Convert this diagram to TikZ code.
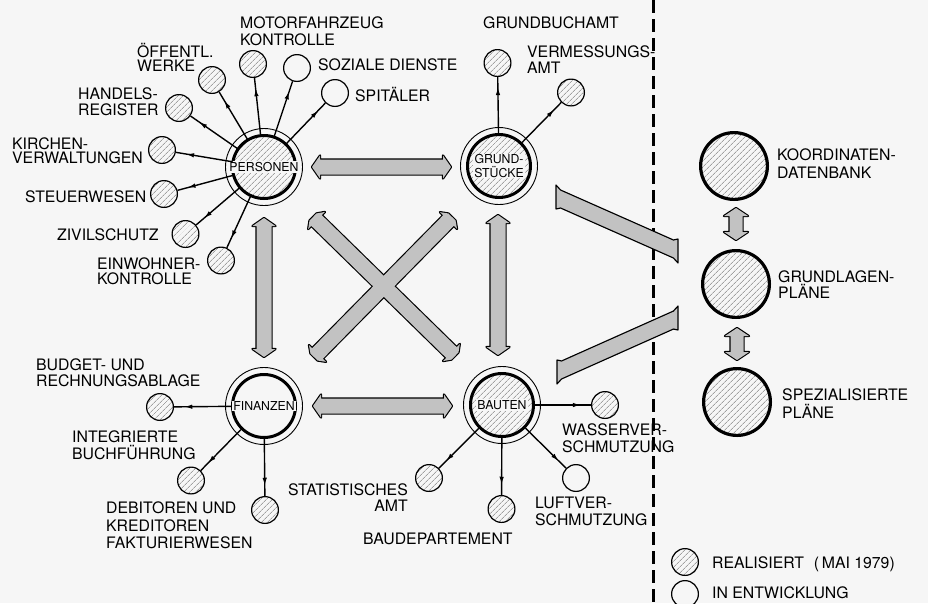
\documentclass[tikz,border=0pt]{standalone}
\usepackage{fontspec}
\setmainfont{TeX Gyre Heros}
\usetikzlibrary{calc,patterns.meta,decorations.markings,arrows.meta}
\definecolor{bg}{gray}{0.965}
\tikzset{
  hatch/.style={pattern={Lines[angle=45,distance=4pt,line width=0.55pt]}, pattern color=black!55},
  small/.style={circle, draw, line width=1.2pt, minimum size=26.8pt, inner sep=0pt},
  real/.style={small, hatch},
  dev/.style={small, fill=bg},
  hub/.style={circle, draw, line width=3pt, minimum size=63pt, inner sep=0pt},
  ring/.style={line width=0.9pt},
  hubtext/.style={fill=bg, inner sep=1pt, font=\fontsize{12.3}{13.5}\selectfont, align=center},
  bigc/.style={circle, draw, line width=3.2pt, minimum size=66.8pt, inner sep=0pt, hatch},
  lbl/.style={inner sep=0pt, font=\fontsize{15.8}{16}\selectfont, align=left, anchor=base west},
  lblr/.style={lbl, align=right, anchor=base east},
  conn/.style={line width=1.4pt, postaction={decorate},
    decoration={markings, mark=at position 0.82 with {\arrow{Latex[length=8pt,width=4.5pt]}}}},
  fatline/.style={draw=black, line width=2.3pt, line join=round},
  fatfill/.style={fill=black!24},
  slab/.style={draw=black, fill=black!24, line width=1.15pt, line join=round},
  divider/.style={line width=3pt, dash pattern=on 13pt off 6pt},
}
% #1 style, #2 start, #3 end, #4 shaft half width, #5 head half width, #6 head length, #7 tip half width
\newcommand\fatarrow[7][]{\path[#1]
 ($(#2)!#7!90:(#3)$) --
 ($($(#2)!#6!(#3)$)!#5!90:(#3)$) --
 ($($(#2)!#6!(#3)$)!#4!90:(#3)$) --
 ($($(#3)!#6!(#2)$)!#4!-90:(#2)$) --
 ($($(#3)!#6!(#2)$)!#5!-90:(#2)$) --
 ($(#3)!#7!-90:(#2)$) --
 ($(#3)!#7!90:(#2)$) --
 ($($(#3)!#6!(#2)$)!#5!90:(#2)$) --
 ($($(#3)!#6!(#2)$)!#4!90:(#2)$) --
 ($($(#2)!#6!(#3)$)!#4!-90:(#3)$) --
 ($($(#2)!#6!(#3)$)!#5!-90:(#3)$) --
 ($(#2)!#7!-90:(#3)$) -- cycle;}
% arrow with vertical end cuts
\newcommand\slabarrow[3][]{\path[#1]
 ($(#2)+(0,-12)$) -- ($(#2)!5pt!(#3)+(0,-9)$) -- ($(#3)!5pt!(#2)+(0,-9)$) --
 ($(#3)+(0,-12)$) -- ($(#3)+(0,12)$) -- ($(#3)!5pt!(#2)+(0,9)$) --
 ($(#2)!5pt!(#3)+(0,9)$) -- ($(#2)+(0,12)$) -- cycle;}
\begin{document}
\begin{tikzpicture}[x=1pt,y=-1pt]
\fill[bg] (0,0) rectangle (928,603);
\useasboundingbox (0,0) rectangle (928,603);

% divider
\coordinate (dv1) at (653,0);
\coordinate (dv2) at (653,603);
\draw[divider] (dv1) -- (dv2);

% big arrow end points
\coordinate (pg1) at (312,167); \coordinate (pg2) at (451,167);
\coordinate (fb1) at (313,406); \coordinate (fb2) at (452,406);
\coordinate (pf1) at (264,218); \coordinate (pf2) at (264,357);
\coordinate (gb1) at (498,215); \coordinate (gb2) at (498,355);
\coordinate (xa1) at (313,217); \coordinate (xa2) at (455,356);
\coordinate (xb1) at (452,217); \coordinate (xb2) at (314,357);
\coordinate (gl1) at (556,197); \coordinate (gl2) at (678,251);
\coordinate (bl1) at (557,372); \coordinate (bl2) at (678,318);
\coordinate (kg1) at (736,208); \coordinate (kg2) at (736,240);
\coordinate (gs1) at (737,328); \coordinate (gs2) at (737,360);

% outlines
\fatarrow[fatline]{pg1}{pg2}{7.5pt}{11.5pt}{8pt}{0pt}
\fatarrow[fatline]{fb1}{fb2}{7.5pt}{11.5pt}{8pt}{0pt}
\fatarrow[fatline]{pf1}{pf2}{7.5pt}{11.5pt}{8pt}{0pt}
\fatarrow[fatline]{gb1}{gb2}{7.5pt}{11.5pt}{8pt}{0pt}
\fatarrow[fatline]{xa1}{xa2}{7.5pt}{12pt}{5pt}{5pt}
\fatarrow[fatline]{xb1}{xb2}{7.5pt}{12pt}{5pt}{5pt}
\fatarrow[fatline]{kg1}{kg2}{6.5pt}{12pt}{8pt}{0pt}
\fatarrow[fatline]{gs1}{gs2}{6.5pt}{12pt}{8pt}{0pt}
% fills
\fatarrow[fatfill]{pg1}{pg2}{7.5pt}{11.5pt}{8pt}{0pt}
\fatarrow[fatfill]{fb1}{fb2}{7.5pt}{11.5pt}{8pt}{0pt}
\fatarrow[fatfill]{pf1}{pf2}{7.5pt}{11.5pt}{8pt}{0pt}
\fatarrow[fatfill]{gb1}{gb2}{7.5pt}{11.5pt}{8pt}{0pt}
\fatarrow[fatfill]{xa1}{xa2}{7.5pt}{12pt}{5pt}{5pt}
\fatarrow[fatfill]{xb1}{xb2}{7.5pt}{12pt}{5pt}{5pt}
\fatarrow[fatfill]{kg1}{kg2}{6.5pt}{12pt}{8pt}{0pt}
\fatarrow[fatfill]{gs1}{gs2}{6.5pt}{12pt}{8pt}{0pt}

\slabarrow[slab]{gl1}{gl2}
\slabarrow[slab]{bl1}{bl2}

% hubs
\node[hub, hatch] (P) at (264,167) {};
\node[hub, hatch] (G) at (499,166) {};
\node[hub, fill=bg] (F) at (264,406) {};
\node[hub, hatch] (B) at (502,405) {};
\draw[ring] (P.center) circle[radius=38.5pt];
\draw[ring] (G.center) circle[radius=38.5pt];
\draw[ring] (F.center) circle[radius=38.5pt];
\draw[ring] (B.center) circle[radius=38.5pt];
\node[hubtext] (Pt) at (P) {PERSONEN};
\node[hubtext] (Gt) at (G) {GRUND-\\STÜCKE};
\node[hubtext] (Ft) at (F) {FINANZEN};
\node[hubtext] (Bt) at (B) {BAUTEN};

% small circles
\node[real] (oew) at (212,80) {};
\node[real] (mfk) at (253,64) {};
\node[dev]  (soz) at (297,68) {};
\node[dev]  (spi) at (335,93) {};
\node[real] (han) at (179,108) {};
\node[real] (kir) at (162,150) {};
\node[real] (ste) at (164,194) {};
\node[real] (ziv) at (185.5,234) {};
\node[real] (ein) at (221,260.5) {};
\node[real] (gba) at (497.5,63) {};
\node[real] (vma) at (571,92.5) {};
\node[real] (bud) at (160,407) {};
\node[real] (int) at (191,480.5) {};
\node[real] (deb) at (265,510) {};
\node[real] (wsv) at (605,405) {};
\node[dev]  (luf) at (576,478) {};
\node[real] (bdp) at (501.5,509) {};
\node[real] (sta) at (429,478) {};

% connectors
\foreach \s in {oew,mfk,soz,spi,han,kir,ste,ziv,ein} \draw[conn] (P) -- (\s);
\foreach \s in {gba,vma} \draw[conn] (G) -- (\s);
\foreach \s in {bud,int,deb} \draw[conn] (F) -- (\s);
\foreach \s in {wsv,luf,bdp,sta} \draw[conn] (B) -- (\s);

% right column
\node[bigc] (kdb) at (734,166) {};
\node[bigc] (glp) at (736,284) {};
\node[bigc] (spp) at (737,402) {};

% legend
\node[real] (lr) at (685,562) {};
\node[dev]  (ld) at (685,594) {};

% labels (base anchor = baseline of the last line)
\node[lbl] (l-oew) at (137,71.5) {ÖFFENTL.\\[-2pt]WERKE};
\node[lbl] (l-mfk) at (240,45.5) {MOTORFAHRZEUG\\[1pt]KONTROLLE};
\node[lbl] (l-soz) at (318,70.5) {SOZIALE DIENSTE};
\node[lbl] (l-spi) at (355,101.5) {SPITÄLER};
\node[lbl] (l-han) at (78,115.2) {HANDELS-\\[-0.3pt]REGISTER};
\node[lbl] (l-kir) at (12,163.8) {KIRCHEN-\\[-1.7pt]VERWALTUNGEN};
\node[lbl] (l-ste) at (25,202.5) {STEUERWESEN};
\node[lbl] (l-ziv) at (57,240.7) {ZIVILSCHUTZ};
\node[lbl] (l-ein) at (97,284) {EINWOHNER-\\[-1.7pt]KONTROLLE};
\node[lbl] (l-gba) at (483,28.5) {GRUNDBUCHAMT};
\node[lbl] (l-vma) at (527,73.5) {VERMESSUNGS-\\AMT};
\node[lbl] (l-kdb) at (777,178.5) {KOORDINATEN-\\[2pt]DATENBANK};
\node[lbl] (l-glp) at (778,298.5) {GRUNDLAGEN-\\PLÄNE};
\node[lbl] (l-spp) at (782,418.5) {SPEZIALISIERTE\\[2pt]PLÄNE};
\node[lbl] (l-bud) at (36,386.5) {BUDGET- UND\\RECHNUNGSABLAGE};
\node[lbl] (l-int) at (72,459.5) {INTEGRIERTE\\[1pt]BUCHFÜHRUNG};
\node[lbl] (l-deb) at (106,548.5) {DEBITOREN UND\\[1.5pt]KREDITOREN\\[1.5pt]FAKTURIERWESEN};
\node[lblr] (l-sta) at (408,511.5) {STATISTISCHES\\AMT};
\node[lbl] (l-bdp) at (363,544.5) {BAUDEPARTEMENT};
\node[lbl] (l-wsv) at (562,452.5) {WASSERVER-\\[1pt]SCHMUTZUNG};
\node[lbl] (l-luf) at (535,525.5) {LUFTVER-\\[1pt]SCHMUTZUNG};
\node[lbl] (l-lr) at (712,568.5) {REALISIERT\hspace{10pt}(\,MAI 1979)};
\node[lbl] (l-ld) at (712,598.5) {IN ENTWICKLUNG};
\end{tikzpicture}
\end{document}
